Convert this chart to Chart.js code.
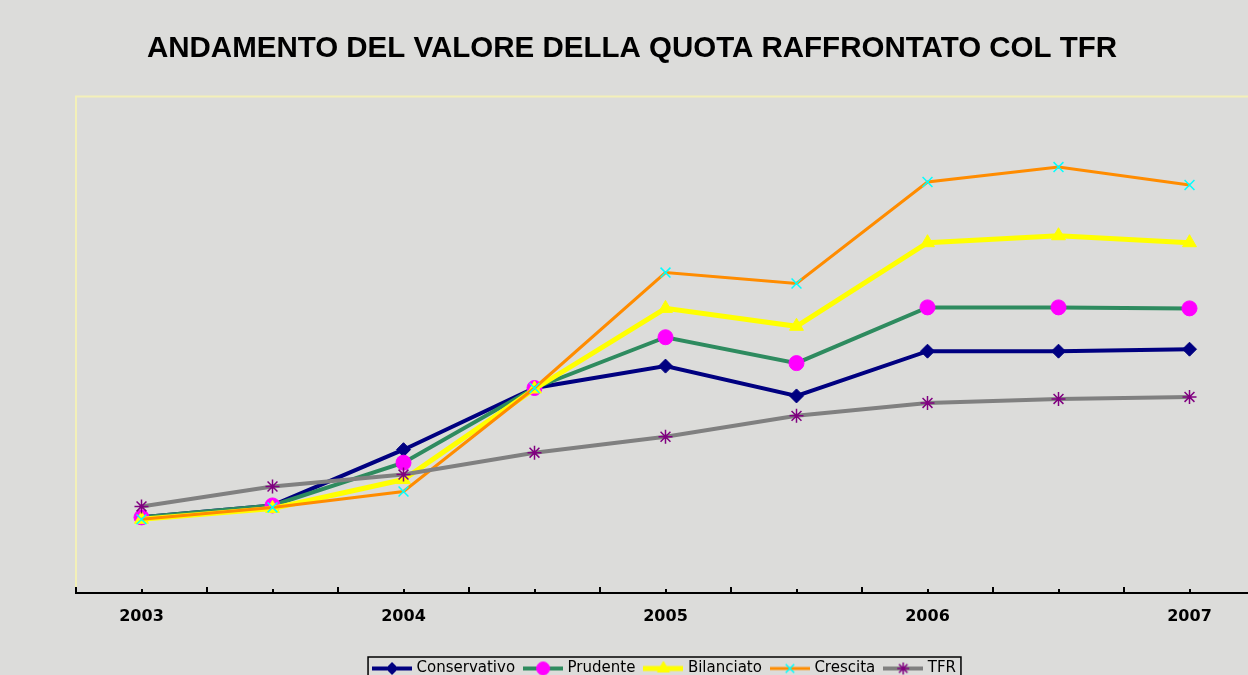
<!DOCTYPE html>
<html lang="it">
<head>
<meta charset="utf-8">
<title>Andamento del valore della quota</title>
<script src="https://cdn.jsdelivr.net/npm/chart.js@4.4.1/dist/chart.umd.min.js"></script>
<style>
  html, body { margin: 0; padding: 0; overflow: hidden; background: #dcdcda; }
  canvas { display: block; }
</style>
</head>
<body>
<canvas id="graph_quota" width="1264" height="692"></canvas>
<script>
// Dati (scala arbitraria: 2003 = 10)

const periodi = ["2003", "2003 II", "2004", "2004 II", "2005", "2005 II", "2006", "2006 II", "2007"];
const etichetteAnni = ["2003", "", "2004", "", "2005", "", "2006", "", "2007"];

const conservativo = [10.0, 10.12, 10.68, 11.3, 11.52, 11.22, 11.67, 11.67, 11.69];
const prudente = [10.0, 10.12, 10.55, 11.3, 11.81, 11.55, 12.11, 12.11, 12.1];
const bilanciato = [9.98, 10.09, 10.38, 11.29, 12.1, 11.92, 12.76, 12.83, 12.76];
const crescita = [9.98, 10.1, 10.26, 11.3, 12.46, 12.35, 13.37, 13.52, 13.34];
const tfr = [10.11, 10.31, 10.43, 10.65, 10.81, 11.02, 11.15, 11.19, 11.21];

// Campione della legenda: linea + marcatore

function campione(ds) {
  const c = document.createElement("canvas");
  c.width = 40;
  c.height = 16;
  const ctx = c.getContext("2d");
  ctx.strokeStyle = ds.borderColor;
  ctx.lineWidth = ds.borderWidth;
  ctx.beginPath();
  ctx.moveTo(0, 8);
  ctx.lineTo(40, 8);
  ctx.stroke();
  ctx.fillStyle = ds.pointBackgroundColor;
  ctx.strokeStyle = ds.pointBorderColor;
  ctx.lineWidth = ds.pointBorderWidth;
  Chart.helpers.drawPoint(ctx, {
    pointStyle: ds.pointStyle,
    radius: ds.pointRadius - 1,
    borderWidth: ds.pointBorderWidth,
    rotation: 0,
  }, 20, 8);
  return c;
}

// Tacche dell'asse x (verso l'alto), bordo area e riquadro legenda

const decorazioni = {
  id: "decorazioni",
  beforeDatasetsDraw(chart) {
    const { ctx, chartArea } = chart;
    ctx.save();
    ctx.strokeStyle = "#f3f0b8";
    ctx.lineWidth = 2;
    ctx.beginPath();
    ctx.moveTo(chartArea.left, chartArea.bottom);
    ctx.lineTo(chartArea.left, chartArea.top);
    ctx.lineTo(chartArea.right, chartArea.top);
    ctx.stroke();
    ctx.restore();
  },
  afterDraw(chart) {
    const { ctx, chartArea } = chart;
    const x = chart.scales.x;
    const passo = x.getPixelForValue(1) - x.getPixelForValue(0);
    const y0 = chartArea.bottom;
    ctx.save();
    ctx.strokeStyle = "#000";
    ctx.lineWidth = 2;
    ctx.beginPath();
    for (let i = 0; i <= periodi.length; i++) {
      const xb = Math.round(x.getPixelForValue(0) + (i - 0.5) * passo);
      ctx.moveTo(xb, y0);
      ctx.lineTo(xb, y0 - 6);
      if (i < periodi.length) {
        const xc = Math.round(x.getPixelForValue(i));
        ctx.moveTo(xc, y0);
        ctx.lineTo(xc, y0 - 4);
      }
    }
    ctx.stroke();

    const boxes = chart.legend.legendHitBoxes;
    if (boxes.length) {
      const l = Math.min(...boxes.map((b) => b.left)) - 7;
      const r = Math.max(...boxes.map((b) => b.left + b.width)) + 5;
      const t = boxes[0].top - 4;
      const h = boxes[0].height + 10;
      ctx.lineWidth = 1.5;
      ctx.strokeRect(l, t, r - l, h);
    }
    ctx.restore();
  },
};

const graficoQuota = document.getElementById("graph_quota");

new Chart(graficoQuota, {
  type: "line",
  data: {
    labels: periodi,
    datasets: [
      {
        label: "Conservativo",
        data: conservativo,
        borderColor: "#000080",
        borderWidth: 4,
        pointStyle: "rectRot",
        pointRadius: 7,
        pointBackgroundColor: "#000080",
        pointBorderColor: "#000080",
        pointBorderWidth: 1,
        order: 5,
      },
      {
        label: "Prudente",
        data: prudente,
        borderColor: "#2e8b5f",
        borderWidth: 4,
        pointStyle: "circle",
        pointRadius: 7.5,
        pointBackgroundColor: "#ff00ff",
        pointBorderColor: "#ff00ff",
        pointBorderWidth: 1,
        order: 4,
      },
      {
        label: "Bilanciato",
        data: bilanciato,
        borderColor: "#ffff00",
        borderWidth: 5,
        pointStyle: "triangle",
        pointRadius: 8,
        pointBackgroundColor: "#ffff00",
        pointBorderColor: "#ffff00",
        pointBorderWidth: 1,
        order: 3,
      },
      {
        label: "Crescita",
        data: crescita,
        borderColor: "#ff8c00",
        borderWidth: 3,
        pointStyle: "crossRot",
        pointRadius: 7,
        pointBackgroundColor: "#00ffff",
        pointBorderColor: "#00ffff",
        pointBorderWidth: 1.5,
        order: 2,
      },
      {
        label: "TFR",
        data: tfr,
        borderColor: "#808080",
        borderWidth: 4,
        pointStyle: "star",
        pointRadius: 7,
        pointBackgroundColor: "#800080",
        pointBorderColor: "#800080",
        pointBorderWidth: 1.5,
        order: 1,
      },
    ],
  },
  options: {
    responsive: false,
    animation: false,
    layout: {
      padding: { left: 0, right: 0, top: 0, bottom: 6 },
    },
    elements: {
      line: { tension: 0, fill: false },
    },
    scales: {
      x: {
        type: "category",
        offset: true,
        grid: { display: false, drawTicks: false },
        border: { display: true, color: "#000", width: 2 },
        ticks: {
          autoSkip: false,
          maxRotation: 0,
          padding: 14,
          color: "#000",
          font: { family: "'DejaVu Sans', Verdana, sans-serif", size: 16, weight: "bold" },
          callback: function (value, index) {
            return etichetteAnni[index];
          },
        },
        afterFit: function (scale) {
          scale.height = 57;
        },
      },
      y: {
        min: 9.24,
        max: 14.23,
        grid: { display: false },
        border: { display: false },
        ticks: { display: false },
        afterFit: function (scale) {
          scale.width = 76;
        },
      },
    },
    plugins: {
      title: {
        display: true,
        text: "ANDAMENTO DEL VALORE DELLA QUOTA RAFFRONTATO COL TFR",
        color: "#000",
        font: { family: "'Liberation Sans', Arial, sans-serif", size: 29.5, weight: "bold" },
        padding: { top: 31, bottom: 30 },
      },
      legend: {
        display: true,
        position: "bottom",
        fullSize: false,
        labels: {
          usePointStyle: true,
          pointStyleWidth: 34,
          padding: 11,
          color: "#000",
          font: { family: "'DejaVu Sans', Verdana, sans-serif", size: 15 },
          generateLabels: function (chart) {
            return chart.data.datasets.map((ds, i) => ({
              text: ds.label,
              fillStyle: ds.borderColor,
              strokeStyle: ds.borderColor,
              lineWidth: 0,
              pointStyle: campione(ds),
              hidden: !chart.isDatasetVisible(i),
              datasetIndex: i,
              fontColor: "#000",
            }));
          },
        },
      },
      tooltip: {
        callbacks: {
          label: function (context) {
            return `${context.dataset.label}: ${context.raw}`;
          },
        },
      },
    },
  },
  plugins: [decorazioni],
});
</script>
</body>
</html>
